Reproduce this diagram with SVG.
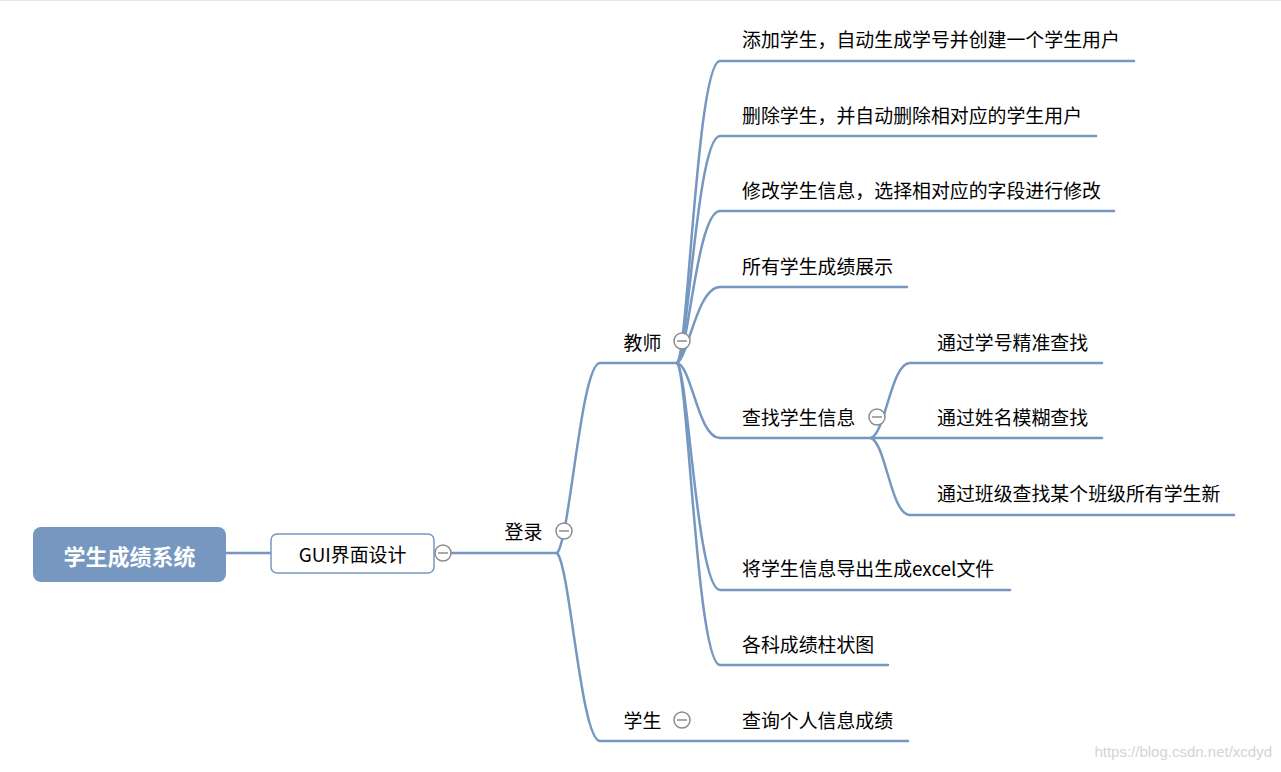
<svg xmlns="http://www.w3.org/2000/svg" width="1281" height="772" viewBox="0 0 1281 772">
<style>
.ln{fill:none;stroke:#7698C0;stroke-width:2.5;stroke-linecap:round}
.t{font-family:"Microsoft YaHei","Noto Sans CJK SC","Liberation Sans",sans-serif;font-size:18.9px;fill:#000;dominant-baseline:central}
.col circle{fill:#fff;stroke:#8c8c8c;stroke-width:1.5}
.col line{stroke:#8c8c8c;stroke-width:1.5}
</style>
<rect x="0" y="0" width="1281" height="772" fill="#fff"/>
<line x1="0" y1="0.5" x2="1281" y2="0.5" stroke="#e6e6e6"/>
<g id="connectors">
<path class="ln" d="M226,553 L271,553"/>
<path class="ln" d="M451,553 L557,553"/>
<path class="ln" d="M557,553 C570,540 581,363 600,363 L677,363"/>
<path class="ln" d="M557,553 C570,566 581,741 600,741 L908,741"/>
<path class="ln" d="M677,363 C688,355 697,61 720,61 L1134,61"/>
<path class="ln" d="M677,363 C688,356 697,136 720,136 L1096,136"/>
<path class="ln" d="M677,363 C688,357 697,211 720,211 L1114,211"/>
<path class="ln" d="M677,363 C688,358 697,287 720,287 L907,287"/>
<path class="ln" d="M677,363 C692,366 698,438 720,438 L1102,438"/>
<path class="ln" d="M677,363 C688,370 697,590 720,590 L1010,590"/>
<path class="ln" d="M677,363 C688,371 697,665 720,665 L888,665"/>
<path class="ln" d="M871,438 C886,432 891,363 910,363 L1102,363"/>
<path class="ln" d="M871,438 C886,444 891,515 910,515 L1234,515"/>
</g>
<g id="root">
<rect x="33" y="527" width="193" height="55" rx="8" fill="#7698C0"/>
<text class="t" x="129.5" y="555" text-anchor="middle" style="font-size:22px;font-weight:bold;fill:#fff">学生成绩系统</text>
</g>
<g id="gui">
<rect x="271" y="534" width="163" height="39" rx="6" fill="#fff" stroke="#7698C0" stroke-width="1.5"/>
<text class="t" x="352.5" y="553" text-anchor="middle">GUI界面设计</text>
<g class="col"><circle cx="443" cy="553" r="8"/><line x1="438" y1="553" x2="448" y2="553"/></g>
</g>
<g id="login">
<text class="t" x="523.5" y="530" text-anchor="middle">登录</text>
<g class="col"><circle cx="564" cy="531" r="8"/><line x1="559" y1="531" x2="569" y2="531"/></g>
</g>
<g id="teacher">
<text class="t" x="642.5" y="341" text-anchor="middle">教师</text>
<g class="col"><circle cx="682" cy="341" r="8"/><line x1="677" y1="341" x2="687" y2="341"/></g>
</g>
<g id="student">
<text class="t" x="642.5" y="719" text-anchor="middle">学生</text>
<g class="col"><circle cx="682" cy="720" r="8"/><line x1="677" y1="720" x2="687" y2="720"/></g>
</g>
<g id="t1"><text class="t" x="742" y="38">添加学生，自动生成学号并创建一个学生用户</text></g>
<g id="t2"><text class="t" x="742" y="114">删除学生，并自动删除相对应的学生用户</text></g>
<g id="t3"><text class="t" x="742" y="189">修改学生信息，选择相对应的字段进行修改</text></g>
<g id="t4"><text class="t" x="742" y="265">所有学生成绩展示</text></g>
<g id="t5">
<text class="t" x="742" y="416">查找学生信息</text>
<g class="col"><circle cx="877" cy="417" r="8"/><line x1="872" y1="417" x2="882" y2="417"/></g>
</g>
<g id="t51"><text class="t" x="937" y="341">通过学号精准查找</text></g>
<g id="t52"><text class="t" x="937" y="416">通过姓名模糊查找</text></g>
<g id="t53"><text class="t" x="937" y="492">通过班级查找某个班级所有学生新</text></g>
<g id="t6"><text class="t" x="742" y="567">将学生信息导出生成excel文件</text></g>
<g id="t7"><text class="t" x="742" y="643">各科成绩柱状图</text></g>
<g id="s1"><text class="t" x="742" y="719">查询个人信息成绩</text></g>
<text x="1272" y="757" text-anchor="end" font-family="'Liberation Sans',Arial,sans-serif" font-size="15" fill="#d4d4d4">https://blog.csdn.net/xcdyd</text>
</svg>
